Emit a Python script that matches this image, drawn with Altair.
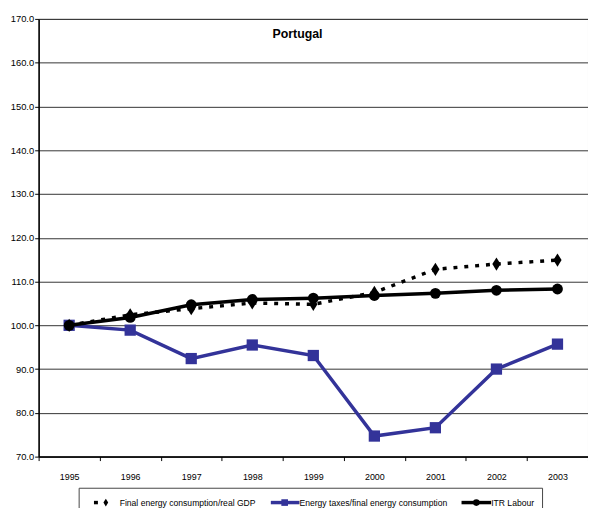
import altair as alt
import pandas as pd

years = ["1995", "1996", "1997", "1998", "1999", "2000", "2001", "2002", "2003"]
final_energy_gdp = [100.0, 102.4, 103.8, 105.1, 104.8, 107.5, 112.8, 114.0, 114.9]
energy_taxes = [100.0, 98.9, 92.4, 95.5, 93.1, 74.7, 76.6, 90.0, 95.7]
itr_labour = [100.0, 101.8, 104.7, 105.9, 106.2, 106.8, 107.3, 108.0, 108.3]

series_names = ["Final energy consumption/real GDP",
                "Energy taxes/final energy consumption",
                "ITR Labour"]

rows = []
for name, vals in zip(series_names, [final_energy_gdp, energy_taxes, itr_labour]):
    for y, v in zip(years, vals):
        rows.append({"year": y, "value": v, "series": name})
df = pd.DataFrame(rows)

FONT = "Liberation Sans, Arial, sans-serif"
BLUE = "#333399"
DIAMOND = "M0,-1L0.62,0L0,1L-0.62,0Z"

W, H = 556, 443

x_enc = alt.X("year:O", scale=alt.Scale(type="band", domain=years, paddingInner=0, paddingOuter=0),
              bandPosition=0.5,
              axis=alt.Axis(title=None, labelAngle=0, tickBand="extent", labelFont=FONT,
                            labelFontSize=9, labelColor="#000", tickColor="#000", tickSize=4,
                            domainColor="#000", domainWidth=1.5, labelPadding=12, grid=False))
y_enc = alt.Y("value:Q", scale=alt.Scale(domain=[70, 170], nice=False, zero=False),
              axis=alt.Axis(title=None, values=list(range(70, 171, 10)), format=".1f",
                            labelFont=FONT, labelFontSize=9.5, labelColor="#000",
                            tickColor="#000", tickSize=4, domainColor="#000", domainWidth=1.5,
                            gridColor="#333", gridWidth=1, labelPadding=1))

base = alt.Chart(df).encode(x=x_enc, y=y_enc)

def sel(name):
    return alt.datum.series == name

blue_line = base.transform_filter(sel(series_names[1])).mark_line(color=BLUE, strokeWidth=3.5)
blue_pts = base.transform_filter(sel(series_names[1])).mark_point(
    shape="square", filled=True, color=BLUE, size=130, opacity=1)

dot_line = base.transform_filter(sel(series_names[0])).mark_line(
    color="#000", strokeWidth=3.5, strokeDash=[4, 7])
dot_pts = base.transform_filter(sel(series_names[0])).mark_point(
    shape=DIAMOND, filled=True, color="#000", size=180, opacity=1)

itr_line = base.transform_filter(sel(series_names[2])).mark_line(color="#000", strokeWidth=3.5)
itr_pts = base.transform_filter(sel(series_names[2])).mark_point(
    shape="circle", filled=True, color="#000", size=120, opacity=1)

one = alt.Data(values=[{"k": 1}])

title = alt.Chart(one).mark_text(text="Portugal", font=FONT, fontSize=12.5, fontWeight="bold",
                                 color="#000", align="center", baseline="middle").encode(
    x=alt.value(262), y=alt.value(15))

# legend box (top and sides; bottom is cropped in the reference)
LX0, LX1, LY0, LY1 = 41, 510, 475, 495
box_top = alt.Chart(one).mark_rule(color="#444", strokeWidth=1).encode(
    x=alt.value(LX0), x2=alt.value(LX1), y=alt.value(LY0))
box_left = alt.Chart(one).mark_rule(color="#444", strokeWidth=1).encode(
    x=alt.value(LX0), y=alt.value(LY0), y2=alt.value(LY1))
box_right = alt.Chart(one).mark_rule(color="#444", strokeWidth=1).encode(
    x=alt.value(LX1), y=alt.value(LY0), y2=alt.value(LY1))

LY = 489.5
LFS = 8.7
leg1_line = alt.Chart(one).mark_rule(color="#000", strokeWidth=3.5).encode(
    x=alt.value(56), x2=alt.value(60), y=alt.value(LY))
leg1_pt = alt.Chart(one).mark_point(shape=DIAMOND, filled=True, color="#000", size=60, opacity=1).encode(
    x=alt.value(68), y=alt.value(LY))
leg1_txt = alt.Chart(one).mark_text(text=series_names[0], font=FONT, fontSize=LFS, color="#000",
                                    align="left", baseline="middle").encode(
    x=alt.value(82), y=alt.value(LY))

leg2_line = alt.Chart(one).mark_rule(color=BLUE, strokeWidth=3.5).encode(
    x=alt.value(235), x2=alt.value(264), y=alt.value(LY))
leg2_pt = alt.Chart(one).mark_point(shape="square", filled=True, color=BLUE, size=45, opacity=1).encode(
    x=alt.value(249), y=alt.value(LY))
leg2_txt = alt.Chart(one).mark_text(text=series_names[1], font=FONT, fontSize=LFS, color="#000",
                                    align="left", baseline="middle").encode(
    x=alt.value(264), y=alt.value(LY))

leg3_line = alt.Chart(one).mark_rule(color="#000", strokeWidth=3.5).encode(
    x=alt.value(428), x2=alt.value(458), y=alt.value(LY))
leg3_pt = alt.Chart(one).mark_point(shape="circle", filled=True, color="#000", size=45, opacity=1).encode(
    x=alt.value(443), y=alt.value(LY))
leg3_txt = alt.Chart(one).mark_text(text=series_names[2], font=FONT, fontSize=LFS, color="#000",
                                    align="left", baseline="middle").encode(
    x=alt.value(458), y=alt.value(LY))

chart = alt.layer(
    blue_line, blue_pts, dot_line, dot_pts, itr_line, itr_pts,
    title,
    box_top, box_left, box_right,
    leg1_line, leg1_pt, leg1_txt,
    leg2_line, leg2_pt, leg2_txt,
    leg3_line, leg3_pt, leg3_txt,
).properties(
    width=W, height=H,
    autosize=alt.AutoSizeParams(type="none"),
    padding={"left": 31, "top": 8, "right": 0, "bottom": 52},
    background="white",
).configure_view(stroke="#666", strokeWidth=1)

chart.save("out.html", embed_options={"renderer": "svg", "actions": False})
